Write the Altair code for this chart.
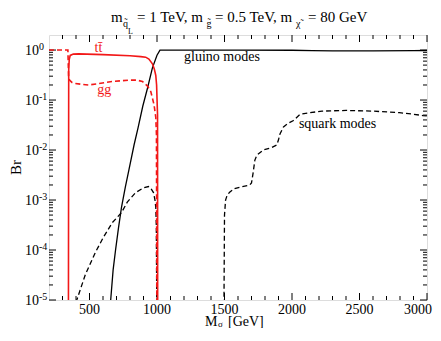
import altair as alt
import pandas as pd

SERIF = "Liberation Serif"
RED = "#f21818"

# ---- data ----
tt_m = [344, 346, 350, 357, 380, 420, 600, 800, 880, 916, 940, 966, 980, 991, 997, 1004, 1005]
tt_br = [8e-6, 0.4, 0.65, 0.78, 0.83, 0.84, 0.81, 0.77, 0.74, 0.72, 0.66, 0.53, 0.42, 0.31, 0.2, 0.05, 8e-6]

gg_m = [200, 340, 345, 352, 370, 394, 450, 493, 550, 668, 792, 850, 892, 930, 954, 978, 991, 996, 999]
gg_br = [1.0, 1.0, 0.3, 0.25, 0.225, 0.215, 0.205, 0.2, 0.21, 0.235, 0.25, 0.25, 0.235, 0.19, 0.148, 0.081, 0.045, 0.02, 8e-6]

gl_m = [657, 675, 693, 715, 737, 765, 792, 830, 860, 895, 929, 966, 1000, 1022, 1200, 1600, 2000, 2150, 2300, 2600, 2900, 3000]
gl_br = [1e-5, 4.0e-5, 1.0e-4, 2.8e-4, 7.1e-4, 1.8e-3, 4.0e-3, 1.26e-2, 2.8e-2, 7.6e-2, 0.17, 0.44, 0.79, 1.0,
         1.0, 0.995, 0.99, 0.975, 0.965, 0.965, 0.975, 0.98]

sqlo_m = [400, 411, 469, 543, 600, 668, 737, 780, 842, 900, 937, 955, 974, 985, 991, 995, 998]
sqlo_br = [9e-6, 1.1e-5, 3.2e-5, 8.9e-5, 1.74e-4, 3.5e-4, 5.6e-4, 9.1e-4, 1.41e-3, 1.75e-3, 1.86e-3, 1.7e-3,
           1.41e-3, 1.0e-3, 7e-4, 3e-4, 8e-6]

sqhi_m = [1496, 1500, 1508, 1520, 1540, 1575, 1620, 1687, 1700, 1712, 1725, 1740, 1787, 1850, 1887, 1900, 1911,
          1937, 1970, 2011, 2060, 2135, 2222, 2400, 2596, 2795, 2900, 2969, 3000]
sqhi_br = [8e-6, 5e-4, 1.0e-3, 1.26e-3, 1.45e-3, 1.7e-3, 1.82e-3, 2.0e-3, 2.2e-3, 3.5e-3, 6.3e-3, 7.9e-3, 1.0e-2,
           1.12e-2, 1.26e-2, 1.6e-2, 2.1e-2, 2.9e-2, 3.4e-2, 3.9e-2, 5.2e-2, 5.6e-2, 6.0e-2, 6.2e-2, 6.0e-2,
           5.6e-2, 5.2e-2, 4.9e-2, 4.8e-2]

x_label_vals = [500, 1000, 1500, 2000, 2500, 3000]
x_minor_vals = [v for v in range(300, 3000, 100) if v % 500 != 0]
y_label_vals = [1, 1e-1, 1e-2, 1e-3, 1e-4, 1e-5]
y_exps = ["0", "-1", "-2", "-3", "-4", "-5"]
y_minor_vals = [m * 10.0 ** k for k in range(-5, 1) for m in range(2, 10) if m * 10.0 ** k < 2]

ann_text = ["t\u0074\u0304", "gg", "gluino modes", "squark modes"]
ann_m = [566, 610, 1200, 2051]
ann_br = [0.91, 0.132, 0.61, 0.0274]

W, H = 378, 265
xs = alt.Scale(domain=[200, 3000], nice=False, zero=False)
ys = alt.Scale(type="log", domain=[1e-5, 2], nice=False)


def line_layer(m, br, color, width, dash=None):
    df = pd.DataFrame({"m": m, "br": br, "i": list(range(len(m)))})
    kw = dict(color=color, strokeWidth=width, clip=True)
    if dash:
        kw["strokeDash"] = dash
    return alt.Chart(df).mark_line(**kw).encode(
        x=alt.X("m:Q", scale=xs, axis=None),
        y=alt.Y("br:Q", scale=ys, axis=None),
        order="i:Q",
    )


def xticks(vals, length):
    d = alt.Chart(pd.DataFrame({"v": vals}))
    bot = d.mark_rule(color="black", strokeWidth=1).encode(
        x=alt.X("v:Q", scale=xs, axis=None), y=alt.value(H), y2=alt.value(H - length))
    top = d.mark_rule(color="black", strokeWidth=1).encode(
        x=alt.X("v:Q", scale=xs, axis=None), y=alt.value(0), y2=alt.value(length))
    return [bot, top]


def yticks(vals, length):
    d = alt.Chart(pd.DataFrame({"v": vals}))
    left = d.mark_rule(color="black", strokeWidth=1).encode(
        y=alt.Y("v:Q", scale=ys, axis=None), x=alt.value(0), x2=alt.value(length))
    right = d.mark_rule(color="black", strokeWidth=1).encode(
        y=alt.Y("v:Q", scale=ys, axis=None), x=alt.value(W), x2=alt.value(W - length))
    return [left, right]


xlab_df = pd.DataFrame({"v": x_label_vals, "t": [str(v) for v in x_label_vals]})
xlabels = alt.Chart(xlab_df.iloc[:-1]).mark_text(align="center", baseline="alphabetic", font=SERIF,
                                                 fontSize=14, color="black").encode(
    x=alt.X("v:Q", scale=xs, axis=None), y=alt.value(H + 13.5), text="t:N")
xlabel_last = alt.Chart(xlab_df.iloc[-1:]).mark_text(align="right", baseline="alphabetic", font=SERIF,
                                                     fontSize=14, color="black").encode(
    x=alt.value(W + 5), y=alt.value(H + 13.5), text="t:N")

ylab_df = pd.DataFrame({"v": y_label_vals, "e": y_exps})
ylab10 = alt.Chart(ylab_df).mark_text(text="10", align="left", baseline="middle", font=SERIF,
                                      fontSize=14, dy=1, color="black").encode(
    y=alt.Y("v:Q", scale=ys, axis=None), x=alt.value(-24))
ylabexp = alt.Chart(ylab_df).mark_text(align="left", baseline="middle", font=SERIF,
                                       fontSize=10, dy=-3, color="black").encode(
    y=alt.Y("v:Q", scale=ys, axis=None), x=alt.value(-10), text="e:N")

ann_df = pd.DataFrame({"t": ann_text, "m": ann_m, "br": ann_br})
ann_red = alt.Chart(ann_df.iloc[:2]).mark_text(align="center", baseline="alphabetic", font=SERIF,
                                               fontSize=14, color=RED).encode(
    x=alt.X("m:Q", scale=xs, axis=None), y=alt.Y("br:Q", scale=ys, axis=None), text="t:N")
ann_blk = alt.Chart(ann_df.iloc[2:]).mark_text(align="left", baseline="alphabetic", font=SERIF,
                                               fontSize=14, color="black").encode(
    x=alt.X("m:Q", scale=xs, axis=None), y=alt.Y("br:Q", scale=ys, axis=None), text="t:N")

one = pd.DataFrame({"a": [0]})


def txt(s, x, y, size, angle=0, align="left"):
    kw = dict(text=s, align=align, baseline="alphabetic", font=SERIF, fontSize=size, color="black")
    if angle:
        kw["angle"] = angle
    return alt.Chart(one).mark_text(**kw).encode(x=alt.value(x), y=alt.value(y))


TB = -13.5   # title baseline relative to plot top
SB = TB + 5  # subscript baseline
title_parts = [
    txt("m", 62, TB, 15),
    txt("q\u0303", 74, SB, 10),
    txt("L", 79, -1, 8),
    txt("= 1 TeV, m", 88, TB, 15),
    txt("g\u0303", 157.5, SB, 10),
    txt("= 0.5 TeV, m", 166, TB, 15),
    txt("\u03c7\u0303", 247, SB, 10),
    txt("= 80 GeV", 259, TB, 15),
]

xtitle = [
    txt("M", 156, 291, 14),
    txt("\u03c3", 169, 292, 9),
    txt("[GeV]", 179, 291, 14),
]
ytitle = txt("Br", -28, H / 2, 15, angle=270, align="center")

layers = []
layers += xticks(x_label_vals, 7) + xticks(x_minor_vals, 4)
layers += yticks(y_label_vals, 7) + yticks(y_minor_vals, 4)
layers += [
    line_layer(sqlo_m, sqlo_br, "black", 1.3, [5, 3]),
    line_layer(sqhi_m, sqhi_br, "black", 1.3, [5, 3]),
    line_layer(gl_m, gl_br, "black", 1.3),
    line_layer(gg_m, gg_br, RED, 1.6, [5, 3]),
    line_layer(tt_m, tt_br, RED, 1.6),
    xlabels, xlabel_last, ylab10, ylabexp, ann_red, ann_blk,
]
layers += title_parts + xtitle + [ytitle]

chart = alt.layer(*layers).properties(
    width=W, height=H,
    autosize=alt.AutoSizeParams(type="none"),
    padding={"left": 41, "top": 27, "right": 6, "bottom": 28},
).configure_view(stroke="black", strokeWidth=1).configure(background="white")

chart.save("out.html", embed_options={"renderer": "svg", "actions": False})
